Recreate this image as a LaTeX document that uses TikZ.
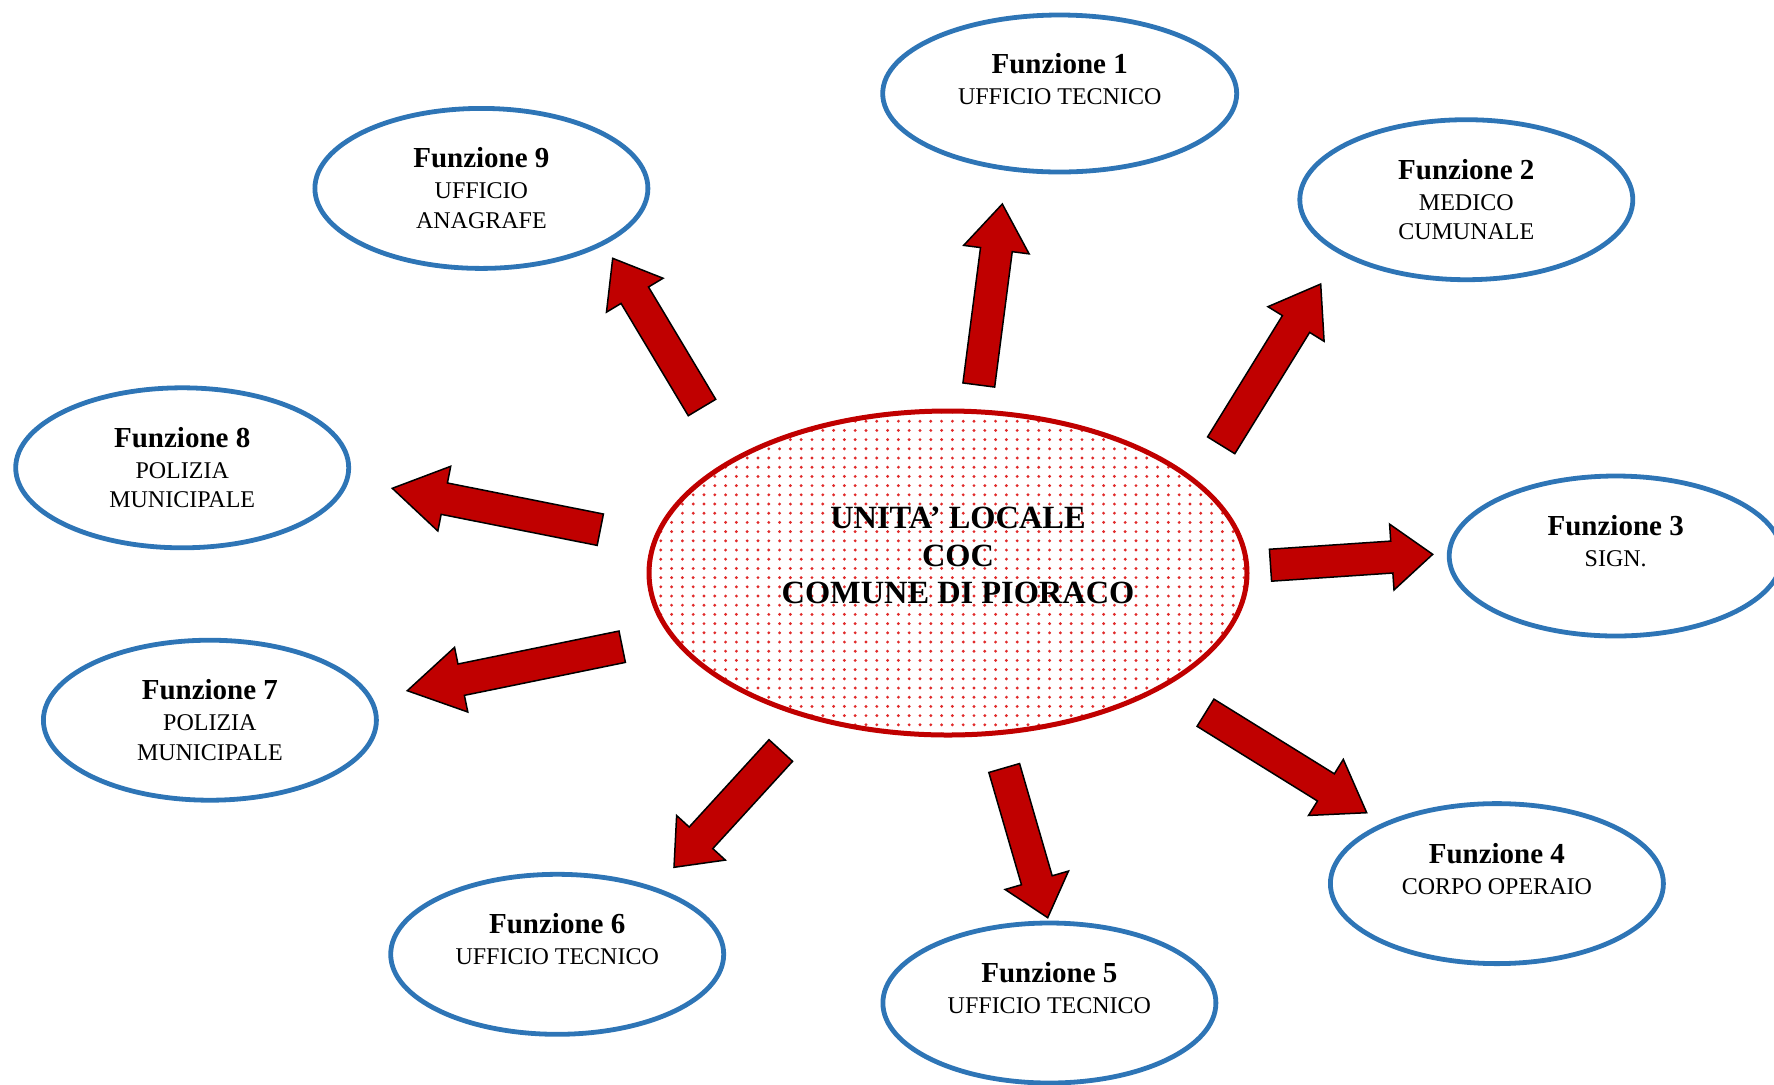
\documentclass[tikz,border=0pt]{standalone}
\usepackage{fontspec}
\setmainfont{Liberation Serif}
\usetikzlibrary{calc,shapes.geometric}
\definecolor{fblue}{HTML}{2E75B6}
\definecolor{cred}{HTML}{C00000}
\definecolor{dotred}{HTML}{E02A2A}
% tail, tip, head length
\newcommand\blockarrow[3]{%
  \coordinate (hb) at ($(#2)!#3!(#1)$);
  \filldraw[arrowst] ($(#1)!8pt!90:(#2)$) -- ($(hb)!8pt!90:(#2)$) -- ($(hb)!16.5pt!90:(#2)$) -- (#2)
    -- ($(hb)!16.5pt!-90:(#2)$) -- ($(hb)!8pt!-90:(#2)$) -- ($(#1)!8pt!-90:(#2)$) -- cycle;}
\begin{document}
\begin{tikzpicture}[x=0.5pt,y=-0.5pt,
  fell/.style={ellipse, draw=fblue, line width=2.4pt, inner sep=0pt, minimum width=166.5pt, minimum height=80pt},
  ftitle/.style={anchor=base, inner sep=0pt, font=\bfseries\fontsize{14.5}{17}\selectfont},
  fline/.style={anchor=base, inner sep=0pt, font=\fontsize{12}{14}\selectfont},
  ctext/.style={anchor=base, inner sep=0pt, font=\bfseries\fontsize{16.2}{19}\selectfont},
  arrowst/.style={fill=cred, draw=black, line width=0.75pt, line join=miter}]
\useasboundingbox (0,0) rectangle (1774,1084);
\clip (0,0) rectangle (1774,1084);

% central ellipse with dotted fill
\begin{scope}
  \clip (948,573) ellipse [x radius=299, y radius=162];
  \foreach \i in {0,...,55}{\foreach \j in {0,...,35}{
    \fill[dotred] (650+\i*10.8, 412+\j*9.2) circle[radius=1.6];}}
\end{scope}
\node[ellipse, draw=cred, line width=2.5pt, inner sep=0pt, minimum width=299pt, minimum height=162pt] (coc) at (948,573) {};
\node[ctext] (c1) at (958,528.3) {UNITA’ LOCALE};
\node[ctext] (c2) at (958,566.7) {COC};
\node[ctext] (c3) at (958,603.3) {COMUNE DI PIORACO};

% function ellipses
\node[fell, minimum width=177pt, minimum height=78.5pt] (f1) at (1059.7,93.5) {};
\node[ftitle] (f1a) at ($(f1)+(0,-20.5)$) {Funzione 1};
\node[fline] (f1b) at ($(f1)+(0,10.5)$) {UFFICIO TECNICO};

\node[fell] (f2) at (1466.3,199.7) {};
\node[ftitle] (f2a) at ($(f2)+(0,-20.5)$) {Funzione 2};
\node[fline] (f2b) at ($(f2)+(0,10.5)$) {MEDICO};
\node[fline] (f2c) at ($(f2)+(0,40)$) {CUMUNALE};

\node[fell] (f3) at (1615.7,556) {};
\node[ftitle] (f3a) at ($(f3)+(0,-20.5)$) {Funzione 3};
\node[fline] (f3b) at ($(f3)+(0,10.5)$) {SIGN.};

\node[fell] (f4) at (1496.9,883.6) {};
\node[ftitle] (f4a) at ($(f4)+(0,-20.5)$) {Funzione 4};
\node[fline] (f4b) at ($(f4)+(0,10.5)$) {CORPO OPERAIO};

\node[fell] (f5) at (1049.4,1003) {};
\node[ftitle] (f5a) at ($(f5)+(0,-20.5)$) {Funzione 5};
\node[fline] (f5b) at ($(f5)+(0,10.5)$) {UFFICIO TECNICO};

\node[fell] (f6) at (557.2,954.3) {};
\node[ftitle] (f6a) at ($(f6)+(0,-20.5)$) {Funzione 6};
\node[fline] (f6b) at ($(f6)+(0,10.5)$) {UFFICIO TECNICO};

\node[fell] (f7) at (209.9,720.2) {};
\node[ftitle] (f7a) at ($(f7)+(0,-20.5)$) {Funzione 7};
\node[fline] (f7b) at ($(f7)+(0,10.5)$) {POLIZIA};
\node[fline] (f7c) at ($(f7)+(0,40)$) {MUNICIPALE};

\node[fell] (f8) at (182.2,467.8) {};
\node[ftitle] (f8a) at ($(f8)+(0,-20.5)$) {Funzione 8};
\node[fline] (f8b) at ($(f8)+(0,10.5)$) {POLIZIA};
\node[fline] (f8c) at ($(f8)+(0,40)$) {MUNICIPALE};

\node[fell] (f9) at (481.4,188.4) {};
\node[ftitle] (f9a) at ($(f9)+(0,-20.5)$) {Funzione 9};
\node[fline] (f9b) at ($(f9)+(0,10.5)$) {UFFICIO};
\node[fline] (f9c) at ($(f9)+(0,40)$) {ANAGRAFE};

% arrow end points
\coordinate (t1) at (978.8,385);   \coordinate (p1) at (1002.3,204);
\coordinate (t2) at (1221.2,445.3);\coordinate (p2) at (1320.7,284);
\coordinate (t3) at (1270.5,565.2);\coordinate (p3) at (1432.7,554.3);
\coordinate (t4) at (1205.5,712.7);\coordinate (p4) at (1366.7,812.7);
\coordinate (t5) at (1004.2,768);  \coordinate (p5) at (1047.7,917.7);
\coordinate (t6) at (780.8,750.5); \coordinate (p6) at (674,867.3);
\coordinate (t7) at (622.2,646.7); \coordinate (p7) at (407.3,690.7);
\coordinate (t8) at (600.3,529.7); \coordinate (p8) at (392.3,488.3);
\coordinate (t9) at (702,407.5);   \coordinate (p9) at (612.7,258.3);

\blockarrow{t1}{p1}{23pt}
\blockarrow{t2}{p2}{23.5pt}
\blockarrow{t3}{p3}{20.5pt}
\blockarrow{t4}{p4}{24pt}
\blockarrow{t5}{p5}{19.5pt}
\blockarrow{t6}{p6}{20pt}
\blockarrow{t7}{p7}{27.5pt}
\blockarrow{t8}{p8}{26.5pt}
\blockarrow{t9}{p9}{21.5pt}
\end{tikzpicture}
\end{document}
